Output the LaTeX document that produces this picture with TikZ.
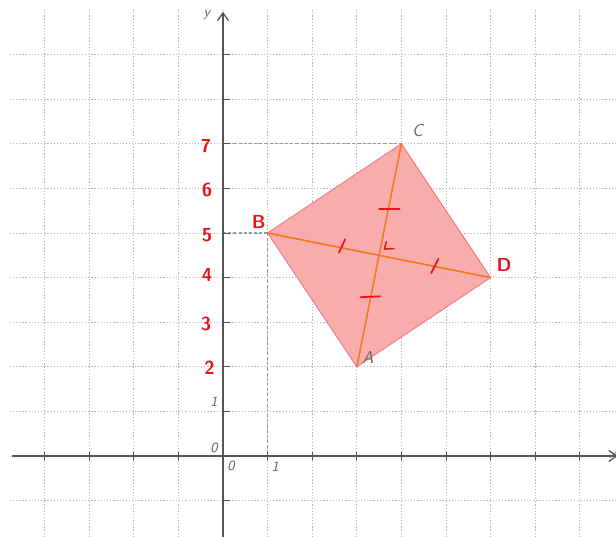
\documentclass[tikz,border=0pt]{standalone}
\usetikzlibrary{arrows.meta}
\definecolor{gridc}{HTML}{B8B8B8}
\definecolor{axisc}{HTML}{555555}
\definecolor{labc}{HTML}{666666}
\definecolor{polyfill}{HTML}{F8A3A3}
\definecolor{polyedge}{HTML}{F07C7C}
\definecolor{diagc}{HTML}{F2781E}
\definecolor{handred}{HTML}{E8141B}
\tikzset{
  gridline/.style={gridc, line width=0.6pt, dash pattern=on 0.8pt off 1.2pt},
  axisline/.style={axisc, line width=0.8pt, -{Straight Barb[length=5pt,width=7pt]}},
  tickline/.style={axisc, line width=0.6pt},
  helper/.style={gray!80, line width=0.9pt, dash pattern=on 2pt off 1.3pt},
  glabel/.style={labc, font=\sffamily\itshape\fontsize{9}{9}\selectfont, inner sep=0pt},
  redlabel/.style={handred, font=\sffamily\bfseries\fontsize{12}{12}\selectfont, inner sep=0pt},
  hmark/.style={handred, line width=1.1pt, line cap=round},
  diag/.style={diagc, line width=1pt}
}
\begin{document}
\begin{tikzpicture}[x=1cm,y=1cm]
\useasboundingbox (-5,-1.816) rectangle (8.812,10.224);
\clip (-5,-1.816) rectangle (8.812,10.224);
% grid
\foreach \i in {-4,...,8} {\draw[gridline] (\i,-1.816) -- (\i,10.0);}
\foreach \j in {-1,...,9} {\draw[gridline] (-4.78,\j) -- (8.812,\j);}
% polygon
\coordinate (A) at (3,2);
\coordinate (C) at (4,7);
\coordinate (B) at (1,5);
\coordinate (D) at (6,4);
\coordinate (O) at (0,0);
\coordinate (Y7) at (0,7);
\coordinate (Y5) at (0,5);
\coordinate (X1) at (1,0);
% helper dashed lines
\draw[helper] (Y7) -- (C);
\draw[helper] (Y5) -- (B);
\draw[helper] (B) -- (X1);
% axes
\coordinate (xs) at (-4.73,0);
\coordinate (xe) at (8.85,0);
\coordinate (ys) at (0,-1.816);
\coordinate (ye) at (0,9.96);
\draw[axisline] (xs) -- (xe);
\draw[axisline] (ys) -- (ye);
\foreach \i in {-4,...,-1,1,2,...,8} {\draw[tickline] (\i,-0.1) -- (\i,0.1);}
\foreach \j in {-1,1,2,...,9} {\draw[tickline] (0,\j) -- (0.15,\j);}
% fill
\fill[polyfill, fill opacity=0.9] (A) -- (D) -- (C) -- (B) -- cycle;
\draw[polyedge, line width=0.6pt] (A) -- (D) -- (C) -- (B) -- cycle;
% diagonals
\draw[diag] (A) -- (C);
\draw[diag] (B) -- (D);
% equal-length marks
\draw[hmark] (2.60,4.56) -- (2.74,4.86);
\draw[hmark] (4.67,4.10) -- (4.83,4.42);
\draw[hmark] (3.50,5.54) -- (3.96,5.54);
\draw[hmark] (3.08,3.56) -- (3.52,3.58);
% right angle mark
\draw[handred, line width=1pt, line cap=round, line join=round] (3.66,4.80) -- (3.62,4.64) -- (3.83,4.65);
% labels
\node[glabel] (ly) at (-0.36,9.9) {y};
\node[glabel] (lx) at (8.74,0.02) {x};
\node[glabel] (l0a) at (-0.2,0.19) {0};
\node[glabel] (l0b) at (0.18,-0.23) {0};
\node[glabel] (l1x) at (1.17,-0.23) {1};
\node[glabel] (l1y) at (-0.2,1.22) {1};
\node[glabel, font=\sffamily\itshape\fontsize{11}{11}\selectfont] (lA) at (3.25,2.2) {A};
\node[glabel, font=\sffamily\itshape\fontsize{11}{11}\selectfont] (lC) at (4.36,7.3) {C};
\node[redlabel] (lB) at (0.8,5.25) {B};
\node[redlabel] (lD) at (6.3,4.28) {D};
\node[redlabel] (r7) at (-0.38,6.95) {7};
\node[redlabel] (r6) at (-0.36,5.96) {6};
\node[redlabel] (r5) at (-0.36,4.96) {5};
\node[redlabel] (r4) at (-0.36,4.06) {4};
\node[redlabel] (r3) at (-0.38,2.96) {3};
\node[redlabel] (r2) at (-0.3,1.97) {2};
\end{tikzpicture}
\end{document}
